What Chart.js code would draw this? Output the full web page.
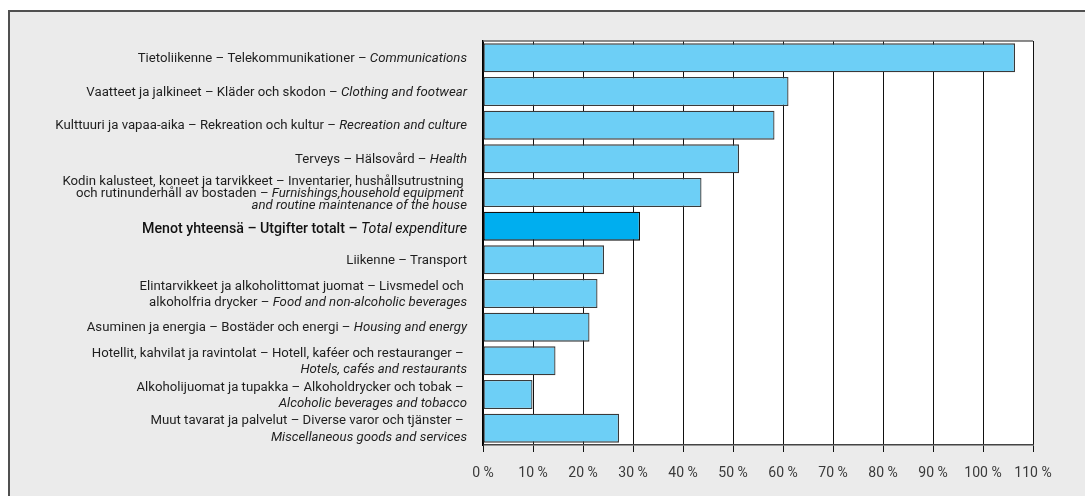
<!DOCTYPE html>
<html>
<head>
<meta charset="utf-8">
<script src="https://cdn.jsdelivr.net/npm/chart.js@4.4.1/dist/chart.umd.min.js"></script>
<style>
  html, body { margin: 0; padding: 0; background: #ffffff; }
  #c { display: block; }
</style>
</head>
<body>
<canvas id="c" width="1085" height="496"></canvas>
<script>
// Each category label: list of lines, each line = [regular part, italic part]
const categoryLines = [
  [["Tietoliikenne – Telekommunikationer – ", "Communications"]],
  [["Vaatteet ja jalkineet – Kläder och skodon – ", "Clothing and footwear"]],
  [["Kulttuuri ja vapaa-aika – Rekreation och kultur – ", "Recreation and culture"]],
  [["Terveys – Hälsovård – ", "Health"]],
  [["Kodin kalusteet, koneet ja tarvikkeet – Inventarier, hushållsutrustning ", ""],
   ["och rutinunderhåll av bostaden – ", "Furnishings,household equipment "],
   ["", "and routine maintenance of the house"]],
  [["Menot yhteensä – Utgifter totalt – ", "Total expenditure"]],
  [["Liikenne – Transport", ""]],
  [["Elintarvikkeet ja alkoholittomat juomat – Livsmedel och ", ""],
   ["alkoholfria drycker – ", "Food and non-alcoholic beverages"]],
  [["Asuminen ja energia – Bostäder och energi – ", "Housing and energy"]],
  [["Hotellit, kahvilat ja ravintolat – Hotell, kaféer och restauranger – ", ""],
   ["", "Hotels, cafés and restaurants"]],
  [["Alkoholijuomat ja tupakka – Alkoholdrycker och tobak – ", ""],
   ["", "Alcoholic beverages and tobacco"]],
  [["Muut tavarat ja palvelut – Diverse varor och tjänster – ", ""],
   ["", "Miscellaneous goods and services"]]
];
const categories = categoryLines.map(l => l.map(p => p[0] + p[1]).join(" "));
const values = [106.4, 61.1, 58.3, 51.2, 43.7, 31.4, 24.2, 22.9, 21.3, 14.5, 9.9, 27.2];
const tickValues = [0, 10, 20, 30, 40, 50, 60, 70, 80, 90, 100, 110];
const totalIndex = 5;

const FONT = "Roboto, 'Liberation Sans', sans-serif";

const framePlugin = {
  id: 'frame',
  beforeDraw(chart) {
    const ctx = chart.ctx;
    const a = chart.chartArea;
    ctx.save();
    ctx.fillStyle = '#ebebeb';
    ctx.fillRect(9, 11, chart.width, chart.height);
    ctx.strokeStyle = '#505050';
    ctx.lineWidth = 2;
    ctx.beginPath();
    ctx.moveTo(9, chart.height + 2);
    ctx.lineTo(9, 11);
    ctx.lineTo(chart.width + 2, 11);
    ctx.stroke();
    ctx.fillStyle = '#ffffff';
    ctx.fillRect(a.left, a.top, a.right - a.left, a.bottom - a.top);
    ctx.restore();
  },
  beforeDatasetsDraw(chart) {
    const ctx = chart.ctx;
    const a = chart.chartArea;
    ctx.save();
    ctx.strokeStyle = '#666666';
    ctx.lineWidth = 1.5;
    ctx.beginPath();
    ctx.moveTo(a.left, a.top);
    ctx.lineTo(a.right, a.top);
    ctx.stroke();
    ctx.restore();
  },
  afterDraw(chart) {
    const ctx = chart.ctx;
    const y = chart.scales.y;
    const xRight = chart.chartArea.left - 16;
    ctx.save();
    ctx.textAlign = 'right';
    ctx.textBaseline = 'middle';
    categoryLines.forEach((lines, i) => {
      const cy = y.getPixelForValue(i);
      const isTotal = i === totalIndex;
      const size = isTotal ? 14.2 : 13.2;
      const lh = lines.length > 2 ? 12 : 16.5;
      const startY = cy - (lines.length - 1) * lh / 2 + (isTotal ? 3 : 1);
      ctx.fillStyle = isTotal ? '#111111' : '#1e1e1e';
      lines.forEach((parts, j) => {
        const ly = startY + j * lh;
        const reg = parts[0], ita = parts[1];
        let x = xRight;
        if (ita) {
          ctx.font = 'italic ' + size + 'px ' + FONT;
          ctx.fillText(ita, x, ly);
          x -= ctx.measureText(ita).width;
        }
        if (reg) {
          ctx.font = (isTotal ? '500 ' : '') + size + 'px ' + FONT;
          ctx.fillText(reg, x, ly);
        }
      });
    });
    ctx.restore();
  }
};

new Chart(document.getElementById('c'), {
  type: 'bar',
  data: {
    labels: categories,
    datasets: [{
      data: values,
      backgroundColor: values.map((v, i) => i === totalIndex ? '#00aeef' : '#6dcff6'),
      borderColor: values.map((v, i) => i === totalIndex ? '#111111' : '#3a3a3a'),
      borderWidth: 1.3,
      borderSkipped: false,
      barPercentage: 0.86,
      categoryPercentage: 1.0
    }]
  },
  options: {
    indexAxis: 'y',
    responsive: false,
    devicePixelRatio: 1,
    animation: false,
    layout: { padding: { left: 483, right: 52, top: 41, bottom: 11 } },
    plugins: { legend: { display: false }, tooltip: { enabled: false } },
    scales: {
      x: {
        min: 0, max: 110,
        afterBuildTicks(s) { s.ticks = tickValues.map(v => ({ value: v })); },
        afterFit(s) { s.height = 40; },
        grid: { color: '#111111', lineWidth: 1, drawTicks: true, tickLength: 7, tickColor: '#111111' },
        border: { display: true, color: '#444444', width: 1.5 },
        ticks: {
          padding: 13,
          color: '#3a3a3a',
          font: { family: FONT, size: 14 },
          callback: v => v + ' %'
        }
      },
      y: {
        afterFit(s) { s.width = 0; },
        grid: { display: false, drawTicks: false },
        border: { display: true, color: '#000000', width: 1.5 },
        ticks: { display: false }
      }
    }
  },
  plugins: [framePlugin]
});
</script>
</body>
</html>
